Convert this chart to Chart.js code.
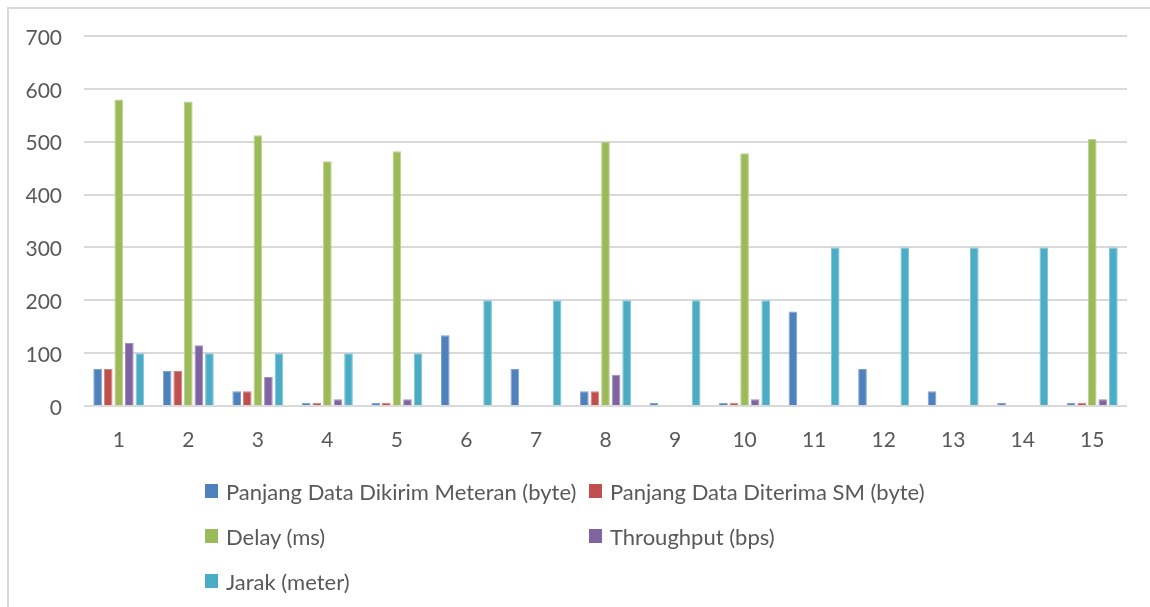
<!DOCTYPE html>
<html>
<head>
<meta charset="utf-8">
<script src="https://cdn.jsdelivr.net/npm/chart.js@4/dist/chart.umd.min.js"></script>
<style>
  html, body { margin: 0; padding: 0; background: #fff; width: 1150px; height: 607px; overflow: hidden; font-family: Lato, "Open Sans", sans-serif; }
  #frame { position: absolute; left: 7px; top: 7px; width: 1160px; height: 620px; border: 2px solid #d9d9d9; box-sizing: border-box; }
  #wrap { position: absolute; left: 0; top: 0; width: 1150px; height: 470px; }
  #legend { position: absolute; left: 0; top: 0; width: 1150px; height: 607px; pointer-events: none; }
  .li { position: absolute; display: flex; align-items: center; height: 30px; font-size: 22px; color: #595959; white-space: nowrap; }
  .sw { width: 13px; height: 14px; margin-right: 8px; }
</style>
</head>
<body>
<div id="frame"></div>
<div id="wrap"><canvas id="c"></canvas></div>
<div id="legend"></div>
<script>
const categories = ["1","2","3","4","5","6","7","8","9","10","11","12","13","14","15"];
const seriesNames = [
  "Panjang Data Dikirim Meteran (byte)",
  "Panjang Data Diterima SM (byte)",
  "Delay (ms)",
  "Throughput (bps)",
  "Jarak (meter)"
];
const dikirim   = [70, 66, 28, 6, 6, 134, 70, 28, 6, 6, 179, 70, 28, 6, 6];
const diterima  = [70, 66, 28, 6, 6, 0, 0, 28, 0, 6, 0, 0, 0, 0, 6];
const delay     = [580, 576, 512, 463, 482, 0, 0, 500, 0, 478, 0, 0, 0, 0, 505];
const throughput= [119, 115, 55, 13, 13, 0, 0, 59, 0, 13, 0, 0, 0, 0, 13];
const jarak     = [100, 100, 100, 100, 100, 200, 200, 200, 200, 200, 300, 300, 300, 300, 300];
const yTicks    = [0, 100, 200, 300, 400, 500, 600, 700];
const colors = ["#4F81BD", "#C0504D", "#9BBB59", "#8064A2", "#4BACC6"];
const edgeColors = ["#7ea2cf", "#d38381", "#bcd28f", "#a28fbb", "#80c4d6"];
const seriesData = [dikirim, diterima, delay, throughput, jarak];

const datasets = seriesNames.map((n, i) => ({
  label: n,
  data: seriesData[i],
  backgroundColor: colors[i],
  borderColor: edgeColors[i],
  borderWidth: 1,
  categoryPercentage: 0.76,
  barPercentage: 0.82
}));

const chart = new Chart(document.getElementById("c"), {
  type: "bar",
  data: { labels: categories, datasets },
  options: {
    responsive: true,
    maintainAspectRatio: false,
    animation: false,
    layout: { padding: { left: 0, right: 23, top: 36, bottom: 14 } },
    plugins: { legend: { display: false }, tooltip: { enabled: false } },
    scales: {
      x: {
        grid: { display: false },
        border: { display: false },
        ticks: { color: "#595959", font: { family: "Lato", size: 21 }, padding: 14, maxRotation: 0 },
        afterFit: s => { s.height = 50; }
      },
      y: {
        min: 0, max: 700,
        afterBuildTicks: s => { s.ticks = yTicks.map(v => ({ value: v })); },
        grid: { color: "#d9d9d9", lineWidth: 2, drawTicks: false },
        border: { display: false },
        ticks: { color: "#595959", font: { family: "Lato", size: 21 }, padding: 22, labelOffset: 2 },
        afterFit: s => { s.width = 84; }
      }
    }
  }
});

const leg = document.getElementById("legend");
const pos = [[205, 476], [589, 476], [205, 521], [589, 521], [205, 566]];
chart.data.datasets.forEach((d, i) => {
  const el = document.createElement("div");
  el.className = "li";
  el.style.left = pos[i][0] + "px";
  el.style.top = pos[i][1] + "px";
  const sw = document.createElement("span");
  sw.className = "sw";
  sw.style.background = d.backgroundColor;
  const t = document.createElement("span");
  t.textContent = d.label;
  el.appendChild(sw); el.appendChild(t);
  leg.appendChild(el);
});
</script>
</body>
</html>
